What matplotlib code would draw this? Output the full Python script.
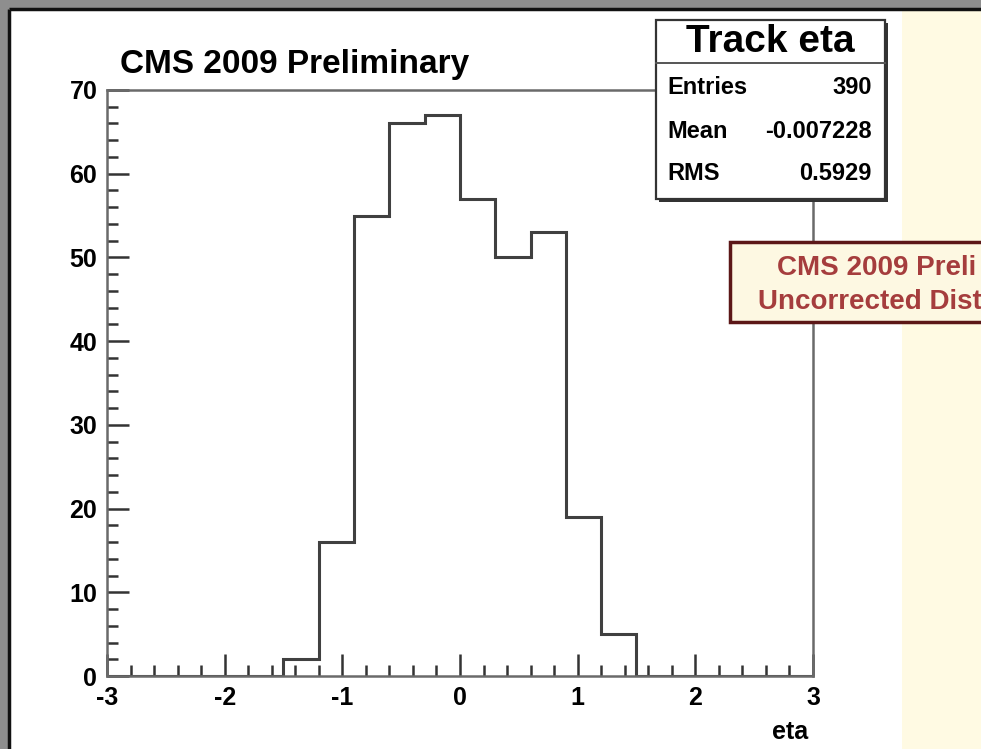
import numpy as np
import matplotlib.pyplot as plt
from matplotlib.patches import Rectangle

# histogram contents (Track eta, 20 bins from -3 to 3)
edges = np.linspace(-3, 3, 21)
counts = [0, 0, 0, 0, 0, 2, 16, 55, 66, 67, 57, 50, 53, 19, 5, 0, 0, 0, 0, 0]

title = "CMS 2009 Preliminary"
hist_name = "Track eta"
stat_names = ["Entries", "Mean", "RMS"]
stat_values = ["390", "-0.007228", "0.5929"]
note_lines = ["CMS 2009 Preli", "Uncorrected Dist"]
x_ticks = [-3, -2, -1, 0, 1, 2, 3]
y_ticks = [0, 10, 20, 30, 40, 50, 60, 70]

W, H = 981, 749
plt.rcParams['font.family'] = ['Liberation Sans', 'DejaVu Sans']
plt.rcParams['font.weight'] = 'bold'

fig = plt.figure(figsize=(W / 100, H / 100), dpi=100)
fig.patch.set_facecolor('#fffae3')

# background: gray border strips, slide, white picture
bg = fig.add_axes([0, 0, 1, 1], zorder=0)
bg.set_xlim(0, W)
bg.set_ylim(H, 0)
bg.axis('off')
bg.add_patch(Rectangle((0, 0), W, 9, facecolor='#8e8e8e', edgecolor='none'))
bg.add_patch(Rectangle((0, 0), 9, H, facecolor='#8e8e8e', edgecolor='none'))
bg.add_patch(Rectangle((10, 11), 892, H - 11, facecolor='white',
                       edgecolor='none'))
bg.plot([9, 9], [H, 9], color='#111111', lw=2.5, solid_capstyle='butt')
bg.plot([9, W], [9, 9], color='#111111', lw=2.5, solid_capstyle='butt')

# main histogram frame: x -3..3 at px 107..813, y 0..70 at px 676..90
ax = fig.add_axes([107 / W, (H - 676) / H, 706 / W, 586 / H], zorder=1)
ax.set_facecolor('none')
ax.stairs(counts, edges, color='#404040', lw=2.2)
ax.set_xlim(-3, 3)
ax.set_ylim(0, 70)
for s in ax.spines.values():
    s.set_color('#6a6a6a')
    s.set_linewidth(1.8)
ax.set_xticks(x_ticks)
ax.set_xticks(np.arange(-3, 3.01, 0.2), minor=True)
ax.set_yticks(y_ticks)
ax.set_yticks(np.arange(0, 70.1, 2), minor=True)
ax.tick_params(which='both', direction='in', color='#333333', width=1.8,
               labelsize=18)
ax.tick_params(which='major', length=16)
ax.tick_params(which='minor', length=8)
ax.tick_params(axis='x', which='both', top=False, pad=7)
ax.tick_params(axis='y', which='both', right=False, pad=7)
ax.set_xticklabels([str(t) for t in x_ticks], fontweight='bold')
ax.set_yticklabels([str(t) for t in y_ticks], fontweight='bold')
ax.set_xlabel("eta", fontsize=18, fontweight='bold', loc='right')
ax.xaxis.set_label_coords(1 - 5 / 706, -0.075)

# overlay for title and boxes
ov = fig.add_axes([0, 0, 1, 1], zorder=3)
ov.set_xlim(0, W)
ov.set_ylim(H, 0)
ov.axis('off')
ov.patch.set_alpha(0)

ov.text(120, 65, title, fontsize=24, fontweight='bold', ha='left', va='center')

# stats box with shadow
bx0, by0, bx1, by1 = 656, 20, 885, 199
ov.add_patch(Rectangle((bx0 + 3, by0 + 3), bx1 - bx0, by1 - by0,
                       facecolor='#333333', edgecolor='none'))
ov.add_patch(Rectangle((bx0, by0), bx1 - bx0, by1 - by0,
                       facecolor='white', edgecolor='#333333', lw=1.6))
ov.plot([bx0, bx1], [63, 63], color='#555555', lw=1.4)
ov.text((bx0 + bx1) / 2, 42, hist_name, fontsize=28, fontweight='bold',
        ha='center', va='center')
for i, (n, v) in enumerate(zip(stat_names, stat_values)):
    yy = 88 + i * 43
    ov.text(667, yy, n, fontsize=17, fontweight='bold', ha='left', va='center')
    ov.text(872, yy, v, fontsize=17, fontweight='bold', ha='right', va='center')

# red note box (cut at right edge)
ov.add_patch(Rectangle((730, 242), W - 730 + 5, 80, facecolor='#fdf8e2',
                       edgecolor='#5c1717', lw=2.5))
ov.text(777, 268, note_lines[0], fontsize=20, fontweight='bold',
        color='#a53d3d', ha='left', va='center')
ov.text(758, 302, note_lines[1], fontsize=20, fontweight='bold',
        color='#a53d3d', ha='left', va='center')

fig.savefig('out.png', dpi=100, facecolor=fig.get_facecolor())
